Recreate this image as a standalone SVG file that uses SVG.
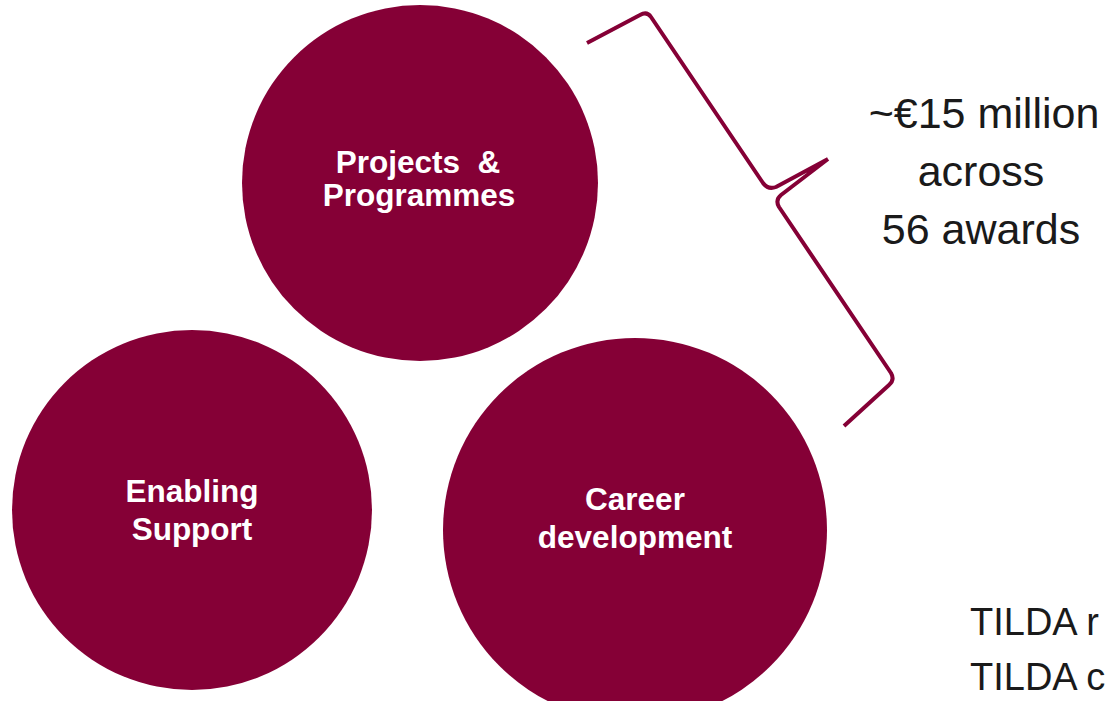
<svg xmlns="http://www.w3.org/2000/svg" width="1105" height="701" viewBox="0 0 1105 701">
<style>
.node{fill:#850036}
.lbl{font-family:"Liberation Sans",Arial,sans-serif;font-weight:bold;font-size:31.5px;fill:#ffffff;text-anchor:middle}
.big{font-family:"Liberation Sans",Arial,sans-serif;font-size:43px;fill:#1a1a1a;text-anchor:middle}
.tilda{font-family:"Liberation Sans",Arial,sans-serif;font-size:38px;fill:#1a1a1a}
.brace{fill:none;stroke:#850036;stroke-width:4;stroke-linejoin:round;stroke-linecap:butt}
</style>
<rect width="1105" height="701" fill="#ffffff"/>
<g id="projects">
<circle class="node" cx="420" cy="183" r="178"/>
<text class="lbl" x="418" y="173" xml:space="preserve">Projects  &amp;</text>
<text class="lbl" x="419" y="206">Programmes</text>
</g>
<g id="enabling">
<circle class="node" cx="192" cy="510" r="180"/>
<text class="lbl" x="192" y="502">Enabling</text>
<text class="lbl" x="192" y="540">Support</text>
</g>
<g id="career">
<circle class="node" cx="635" cy="530" r="192"/>
<text class="lbl" x="635" y="510">Career</text>
<text class="lbl" x="635" y="548">development</text>
</g>
<g id="connectors">
<path class="brace" d="M587,43 L640,15 Q647,11 651,17 L763,183 Q768,190 776,187 L828,159 M828,159 L781,195 Q775,200 779,207 L891,373 Q895,380 889,385 L844,426"/>
</g>
<g id="summary">
<text class="big" x="984" y="128">~€15 million</text>
<text class="big" x="981" y="186">across</text>
<text class="big" x="981" y="244">56 awards</text>
</g>
<g id="tilda">
<text class="tilda" x="970" y="635">TILDA r</text>
<text class="tilda" x="970" y="690">TILDA c</text>
</g>
</svg>
